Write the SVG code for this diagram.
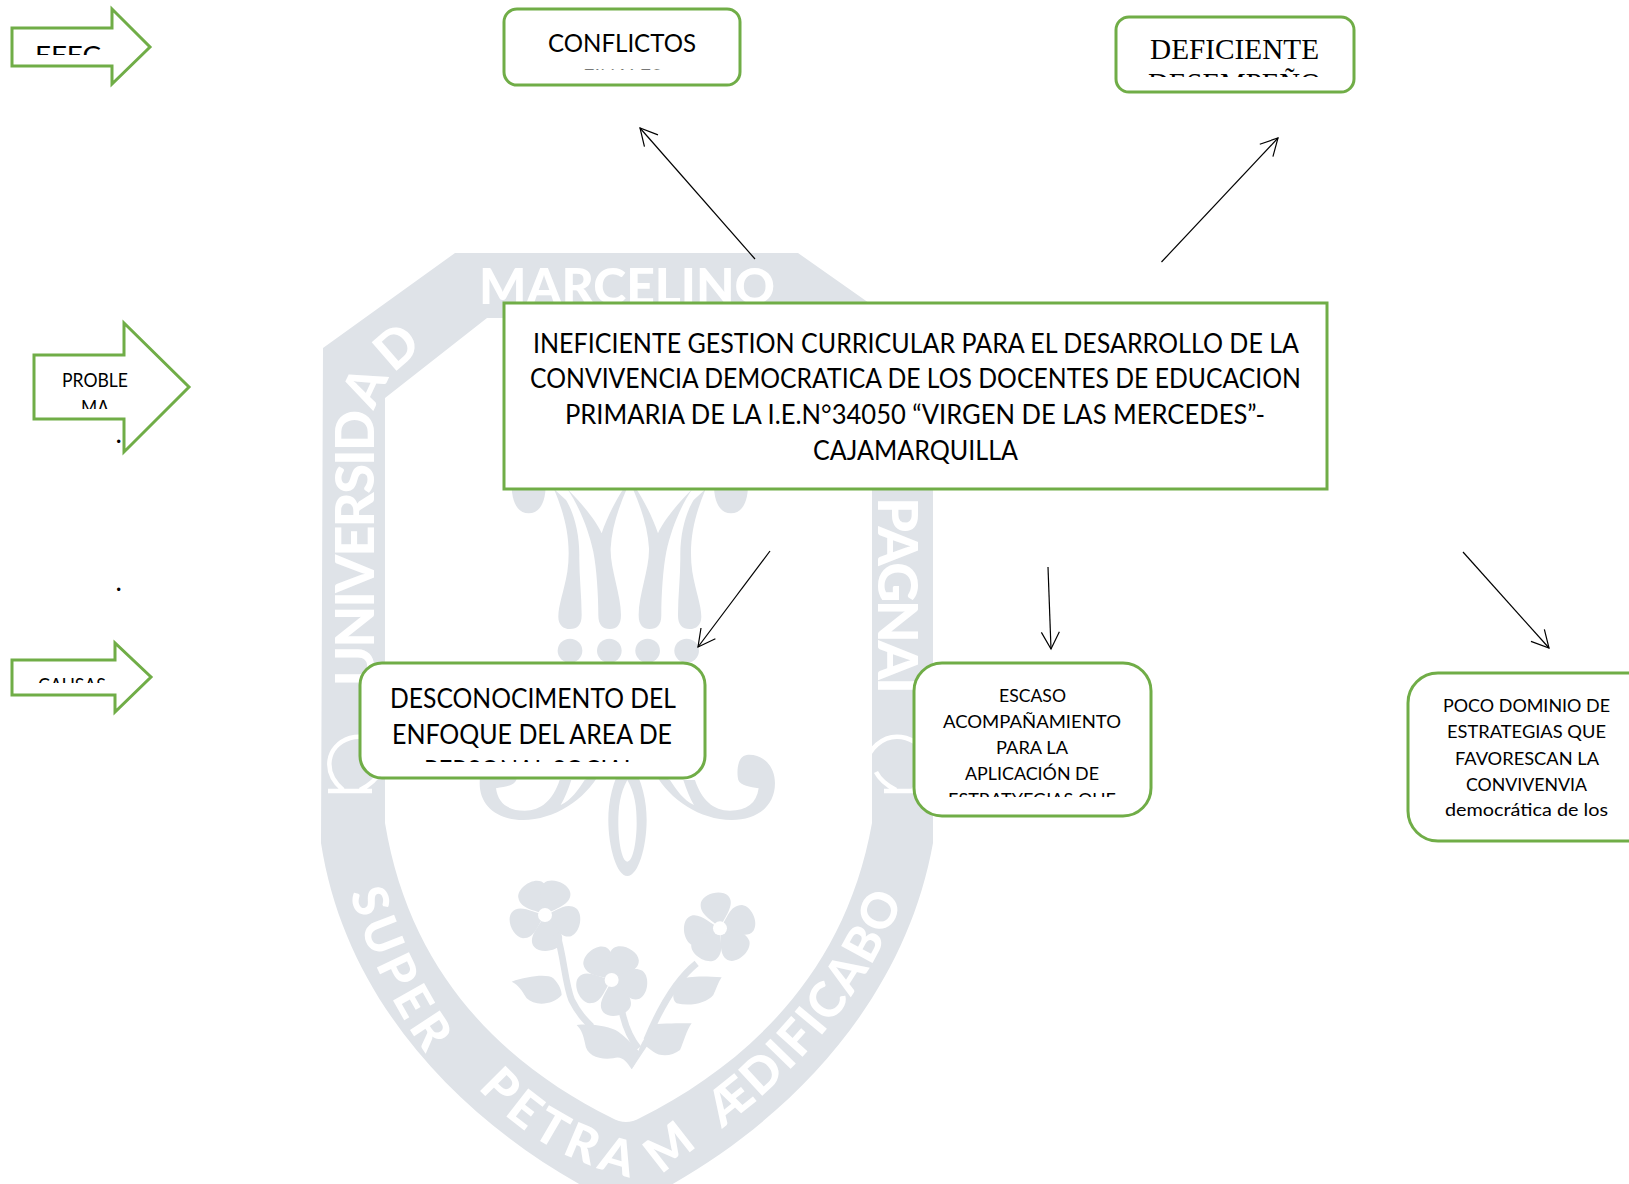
<svg xmlns="http://www.w3.org/2000/svg" xmlns:xlink="http://www.w3.org/1999/xlink" width="1629" height="1184" viewBox="0 0 1629 1184">
<style>
.g{fill:#dfe3e8}
.wm{fill:#fff;font-family:Lato,"Liberation Sans",sans-serif;font-weight:900}
.shape{fill:#fff;stroke:#70ad47;stroke-width:3}
.t{font-family:Lato,"Liberation Sans",sans-serif;fill:#000;text-anchor:start}
.s{font-family:"Liberation Serif",serif;fill:#000}
.c{fill:none;stroke:#000;stroke-width:1.2;marker-end:url(#open)}
</style>
<defs>
<marker id="open" markerUnits="userSpaceOnUse" markerWidth="40" markerHeight="40" viewBox="-30 -20 40 40" refX="0" refY="0" orient="auto"><path d="M-17,-9 L0,0 L-17,9" fill="none" stroke="#000" stroke-width="1.2"/></marker>
<path id="petal" d="M0,0 C-18,-30 -56,-50 -43,-86 C-30,-112 24,-116 41,-92 C60,-62 18,-30 0,0Z"/>
<g id="tears"><path d="M222,12 C255,90 275,170 262,260 C252,320 235,360 235,395 C235,420 250,432 270,432 C292,432 305,420 305,390 C305,330 297,270 298,210 C298,140 280,80 258,45 Z"/><path d="M262,12 C310,60 350,110 365,145 C380,100 405,50 430,12 L440,12 C415,70 395,130 392,190 C390,250 423,330 423,390 C423,420 410,432 390,432 C368,432 355,420 355,390 C355,330 350,250 340,200 C325,130 295,60 262,12 Z"/><path d="M95,0 L197,0 C197,50 180,85 146,85 C112,85 95,50 95,0Z"/></g>
<path id="swirl" d="M555,10 C600,90 690,150 785,150 C860,150 915,110 915,40 C915,-20 870,-50 830,-45 C800,-40 800,10 805,30 C812,48 840,50 866,55 C860,100 830,122 780,122 C730,122 695,90 675,30 L640,30 C650,60 660,85 672,105 C640,90 620,60 600,30 Z"/>
<path id="omega" d="M328,791 H372 M343,790 C322,772 326,746 350,738 C372,732 392,750 390,772 M360,790 C368,786 376,780 380,772" fill="none" stroke="#fff" stroke-width="4.5"/>
<path id="arcSuper" d="M350,893 C370,960 395,1012 436,1068"/>
<path id="arcPetram" d="M478,1088 C515,1130 565,1165 650,1182"/>
<path id="arcAedi" d="M722,1128 C800,1070 872,990 910,880"/>
<clipPath id="cEfec"><rect x="20" y="30" width="100" height="25"/></clipPath>
<clipPath id="cConf"><rect x="520" y="30" width="200" height="39.5"/></clipPath>
<clipPath id="cDef"><rect x="1130" y="30" width="210" height="47"/></clipPath>
<clipPath id="cProb"><rect x="40" y="360" width="100" height="49"/></clipPath>
<clipPath id="cCau"><rect x="20" y="665" width="100" height="18"/></clipPath>
<clipPath id="cDes"><rect x="370" y="680" width="325" height="82"/></clipPath>
<clipPath id="cEsc"><rect x="930" y="680" width="205" height="117"/></clipPath>
</defs>
<rect width="1629" height="1184" fill="#fff"/>
<g id="watermark">
<path class="g" fill-rule="evenodd" d="M455,253 L798,253 L933,348 L933,843 C905,1000 790,1120 662,1190 L590,1190 C460,1120 345,1000 321,843 L323,348 Z M385,398 L872,398 L872,823 C845,975 745,1065 640,1118 Q626,1126 612,1118 C505,1065 410,975 385,823 Z M385,398 L487,318 L770,318 L872,398 Z"/>
<text class="wm" x="479" y="304" font-size="50" textLength="296" lengthAdjust="spacingAndGlyphs">MARCELINO</text>
<text class="wm" transform="translate(374,686) rotate(-90)" font-size="54" textLength="276">UNIVERSID</text>
<text class="wm" transform="translate(364,386) rotate(-65)" font-size="52" text-anchor="middle" y="19">A</text>
<text class="wm" transform="translate(396,346) rotate(-41)" font-size="52" text-anchor="middle" y="19">D</text>
<text class="wm" transform="translate(878,497) rotate(90)" font-size="56" textLength="197">PAGNAI</text>
<text class="wm" font-size="49" letter-spacing="6"><textPath href="#arcSuper" xlink:href="#arcSuper">SUPER</textPath></text>
<text class="wm" font-size="49" letter-spacing="6"><textPath href="#arcPetram" xlink:href="#arcPetram">PETRA</textPath></text>
<text class="wm" font-size="49" transform="translate(669,1147) rotate(-38)" text-anchor="middle" y="17">M</text>
<text class="wm" font-size="49" letter-spacing="2"><textPath href="#arcAedi" xlink:href="#arcAedi">ÆDIFICABO</textPath></text>
<use href="#omega" xlink:href="#omega"/>
<use href="#omega" xlink:href="#omega" transform="translate(1256,0) scale(-1,1)"/>
<g class="g" transform="translate(480,485) scale(.3333)">
<use href="#tears" xlink:href="#tears"/>
<use href="#tears" xlink:href="#tears" transform="translate(899,0) scale(-1,1)"/>
<ellipse cx="270" cy="497" rx="37" ry="36"/><ellipse cx="388" cy="497" rx="37" ry="36"/><ellipse cx="503" cy="497" rx="37" ry="36"/><ellipse cx="620" cy="497" rx="37" ry="36"/>
</g>
<g class="g" transform="translate(470,770) scale(.3333)">
<use href="#swirl" xlink:href="#swirl"/>
<use href="#swirl" xlink:href="#swirl" transform="translate(944,0) scale(-1,1)"/>
<path fill-rule="evenodd" d="M472,-40 C515,20 530,90 530,150 C530,230 505,318 472,318 C440,318 415,230 415,150 C415,90 430,20 472,-40Z M472,30 C450,70 445,110 445,160 C445,210 455,275 472,275 C490,275 500,210 500,160 C500,110 495,70 472,30Z"/>
</g>
<g class="g" transform="translate(490,870) scale(.3333)">
<g transform="translate(165,135)"><use href="#petal" xlink:href="#petal" transform="rotate(-30)"/><use href="#petal" xlink:href="#petal" transform="rotate(25)"/><use href="#petal" xlink:href="#petal" transform="rotate(105)"/><use href="#petal" xlink:href="#petal" transform="rotate(-110)"/><use href="#petal" xlink:href="#petal" transform="rotate(175)"/><circle r="21" fill="#fff"/></g>
<g transform="translate(365,330)"><use href="#petal" xlink:href="#petal" transform="rotate(-35)"/><use href="#petal" xlink:href="#petal" transform="rotate(30)"/><use href="#petal" xlink:href="#petal" transform="rotate(100)"/><use href="#petal" xlink:href="#petal" transform="rotate(-110)"/><use href="#petal" xlink:href="#petal" transform="rotate(170)"/><circle r="21" fill="#fff"/></g>
<g transform="translate(690,175)"><use href="#petal" xlink:href="#petal" transform="rotate(-10)"/><use href="#petal" xlink:href="#petal" transform="rotate(70)"/><use href="#petal" xlink:href="#petal" transform="rotate(140)"/><use href="#petal" xlink:href="#petal" transform="rotate(-95)"/><use href="#petal" xlink:href="#petal" transform="rotate(-145)"/><circle r="21" fill="#fff"/></g>
<path d="M200,190 C222,260 225,340 245,390 C265,430 285,450 305,470 M620,280 C570,320 520,390 470,510 M395,420 C405,470 425,510 445,535" fill="none" stroke="#dfe3e8" stroke-width="20"/>
<path d="M65,335 C110,320 170,310 190,325 C210,345 215,365 215,375 C190,405 135,410 110,385 C95,360 85,345 65,335Z"/>
<path d="M695,322 C640,318 590,318 570,330 C545,360 545,390 560,400 C600,410 650,400 670,375 C680,355 685,335 695,322Z"/>
<path d="M260,465 C310,460 360,470 385,485 C420,510 440,540 450,545 C445,560 435,585 425,598 C410,575 395,555 370,565 C330,570 290,560 285,520 C280,495 275,480 260,465Z"/>
<path d="M450,530 C470,490 490,465 500,462 C540,460 580,460 605,460 C590,480 580,520 570,540 C545,560 510,560 490,545 L470,530 L425,598Z"/>
</g>
</g>
<g id="connectors">
<line class="c" x1="755" y1="259" x2="640" y2="128"/>
<line class="c" x1="1161.5" y1="262" x2="1278" y2="138"/>
<line class="c" x1="770" y1="551" x2="698" y2="647"/>
<line class="c" x1="1048" y1="567" x2="1051" y2="649"/>
<line class="c" x1="1463" y1="552" x2="1549" y2="648"/>
</g>
<g id="node-efectos">
<path class="shape" d="M12,28 H112 V9 L150,47 L112,84 V66 H12 Z"/>
<text class="t" x="35" y="64" font-size="25" textLength="66" lengthAdjust="spacingAndGlyphs" clip-path="url(#cEfec)">EFEC</text>
</g>
<g id="node-conflictos">
<rect class="shape" x="504" y="9" width="236" height="76" rx="13"/>
<g clip-path="url(#cConf)">
<text class="t" x="548" y="52" font-size="25" textLength="148" lengthAdjust="spacingAndGlyphs">CONFLICTOS</text>
<text class="t" x="583" y="87" font-size="25" textLength="79" lengthAdjust="spacingAndGlyphs">FINALES</text>
</g>
</g>
<g id="node-deficiente">
<rect class="shape" x="1116" y="17" width="238" height="75" rx="13"/>
<g clip-path="url(#cDef)">
<text class="s" x="1150" y="59" font-size="29.5" textLength="169" lengthAdjust="spacingAndGlyphs">DEFICIENTE</text>
<text class="s" x="1148" y="92.5" font-size="29.5" textLength="173" lengthAdjust="spacingAndGlyphs">DESEMPEÑO</text>
</g>
</g>
<g id="node-problema">
<path class="shape" d="M34,355 H124 V323 L189,387 L124,452 V419 H34 Z"/>
<g clip-path="url(#cProb)">
<text class="t" x="62" y="387" font-size="19" textLength="66" lengthAdjust="spacingAndGlyphs">PROBLE</text>
<text class="t" x="81" y="414" font-size="19" textLength="28" lengthAdjust="spacingAndGlyphs">MA</text>
</g>
</g>
<g id="dots">
<text class="t" x="115.5" y="443" font-size="27">.</text>
<text class="t" x="115.5" y="591" font-size="27">.</text>
</g>
<g id="node-causas">
<path class="shape" d="M12,660 H115 V643 L151,677 L115,712 V695 H12 Z"/>
<text class="t" x="38" y="692" font-size="19" textLength="68" lengthAdjust="spacingAndGlyphs" clip-path="url(#cCau)">CAUSAS</text>
</g>
<g id="node-problema-central">
<rect class="shape" x="504" y="303" width="823" height="186"/>
<text class="t" x="533" y="353" font-size="26" textLength="766" lengthAdjust="spacingAndGlyphs">INEFICIENTE GESTION CURRICULAR PARA EL DESARROLLO DE LA</text>
<text class="t" x="530" y="388" font-size="26" textLength="771" lengthAdjust="spacingAndGlyphs">CONVIVENCIA DEMOCRATICA DE LOS DOCENTES DE EDUCACION</text>
<text class="t" x="565" y="424" font-size="26" textLength="700" lengthAdjust="spacingAndGlyphs">PRIMARIA DE LA I.E.N°34050 “VIRGEN DE LAS MERCEDES”-</text>
<text class="t" x="813" y="460" font-size="26" textLength="205" lengthAdjust="spacingAndGlyphs">CAJAMARQUILLA</text>
</g>
<g id="node-desconocimiento">
<rect class="shape" x="360" y="663" width="345" height="115" rx="22"/>
<g clip-path="url(#cDes)">
<text class="t" x="390" y="708" font-size="26" textLength="286" lengthAdjust="spacingAndGlyphs">DESCONOCIMENTO DEL</text>
<text class="t" x="392" y="744" font-size="26" textLength="280" lengthAdjust="spacingAndGlyphs">ENFOQUE DEL AREA DE</text>
<text class="t" x="424" y="780" font-size="26" textLength="212" lengthAdjust="spacingAndGlyphs">PERSONAL SOCIAL</text>
</g>
</g>
<g id="node-escaso">
<rect class="shape" x="914" y="663" width="237" height="153" rx="28"/>
<g clip-path="url(#cEsc)">
<text class="t" x="999" y="702" font-size="18" textLength="67" lengthAdjust="spacingAndGlyphs">ESCASO</text>
<text class="t" x="943" y="728" font-size="18" textLength="178" lengthAdjust="spacingAndGlyphs">ACOMPAÑAMIENTO</text>
<text class="t" x="996" y="754" font-size="18" textLength="72" lengthAdjust="spacingAndGlyphs">PARA LA</text>
<text class="t" x="965" y="780" font-size="18" textLength="134" lengthAdjust="spacingAndGlyphs">APLICACIÓN DE</text>
<text class="t" x="948" y="806" font-size="18" textLength="168" lengthAdjust="spacingAndGlyphs">ESTRATYEGIAS QUE</text>
</g>
</g>
<g id="node-poco">
<rect class="shape" x="1408" y="673" width="250" height="168" rx="30"/>
<text class="t" x="1443" y="712" font-size="18" textLength="167" lengthAdjust="spacingAndGlyphs">POCO DOMINIO DE</text>
<text class="t" x="1447" y="738" font-size="18" textLength="159" lengthAdjust="spacingAndGlyphs">ESTRATEGIAS QUE</text>
<text class="t" x="1455" y="765" font-size="18" textLength="144" lengthAdjust="spacingAndGlyphs">FAVORESCAN LA</text>
<text class="t" x="1466" y="791" font-size="18" textLength="121" lengthAdjust="spacingAndGlyphs">CONVIVENVIA</text>
<text class="t" x="1445" y="816" font-size="18" textLength="163" lengthAdjust="spacingAndGlyphs">democrática de los</text>
</g>
</svg>
